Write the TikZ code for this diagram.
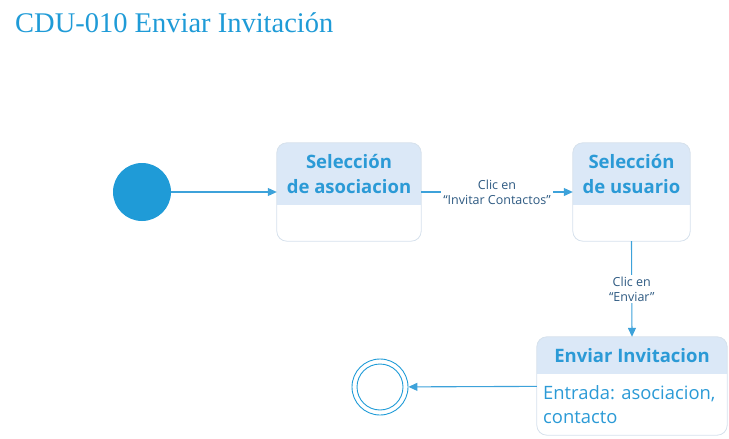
\documentclass[tikz,border=0pt]{standalone}
\usepackage{fontspec}
\setmainfont{Open Sans}
\newfontfamily\titlefont{Liberation Serif}
\usetikzlibrary{arrows.meta,positioning}
\definecolor{titleblue}{HTML}{1F9BD7}
\definecolor{lineblue}{HTML}{3DA2DA}
\definecolor{headblue}{HTML}{DBE8F7}
\definecolor{boxgray}{HTML}{D6E1EC}
\definecolor{textblue}{HTML}{2B9AD6}
\definecolor{lblblue}{HTML}{2E5A82}

\begin{document}
\begin{tikzpicture}[x=1pt,y=-1pt,>={Triangle[length=9pt,width=8pt]},
  statebox/.style={rectangle,inner sep=0pt},
  headfill/.style={fill=headblue},
  boxline/.style={draw=boxgray,line width=0.8pt,rounded corners=10pt},
  headtext/.style={align=center,text=textblue,font=\bfseries\fontsize{18.5}{25}\selectfont},
  flow/.style={->,draw=lineblue,line width=1.1pt},
  lbl/.style={align=center,fill=white,text=lblblue,inner sep=2pt,font=\fontsize{12.5}{15}\selectfont}]
\useasboundingbox (0,0) rectangle (729,439);
\node[anchor=base west,text=titleblue,inner sep=0pt,font=\titlefont\fontsize{28.5}{30}\selectfont] (title) at (15,32) {CDU-010 Enviar Invitación};

% start / end
\node[circle,fill=titleblue,minimum size=58pt,inner sep=0pt] (init) at (142,192) {};
\node[circle,draw=titleblue,line width=0.9pt,minimum size=56pt,inner sep=0pt] (fin) at (380,387) {};
\node[circle,draw=titleblue,line width=0.9pt,minimum size=46pt,inner sep=0pt] (fininner) at (fin) {};

% Seleccion de asociacion
\node[statebox,minimum width=144pt,minimum height=98pt] (asoc) at (349,192) {};
\fill[headfill] ([yshift=-62pt]asoc.north west) [rounded corners=10pt] -- (asoc.north west) -- (asoc.north east) [sharp corners] -- ([yshift=-62pt]asoc.north east) -- cycle;
\draw[boxline] (asoc.north west) rectangle (asoc.south east);
\node[headtext] (asoct) at ([yshift=-31pt]asoc.north) {Selección\\de asociacion};

% Seleccion de usuario
\node[statebox,minimum width=117pt,minimum height=98pt] (usr) at (631.5,192) {};
\fill[headfill] ([yshift=-62pt]usr.north west) [rounded corners=10pt] -- (usr.north west) -- (usr.north east) [sharp corners] -- ([yshift=-62pt]usr.north east) -- cycle;
\draw[boxline] (usr.north west) rectangle (usr.south east);
\node[headtext] (usrt) at ([yshift=-31pt]usr.north) {Selección\\de usuario};

% Enviar Invitacion
\node[statebox,minimum width=190pt,minimum height=98pt] (env) at (632,386) {};
\fill[headfill] ([yshift=-37pt]env.north west) [rounded corners=10pt] -- (env.north west) -- (env.north east) [sharp corners] -- ([yshift=-37pt]env.north east) -- cycle;
\draw[boxline] (env.north west) rectangle (env.south east);
\node[headtext] (envt) at ([yshift=-18.5pt]env.north) {Enviar Invitacion};
\node[anchor=north west,align=left,text=textblue,inner sep=0pt,font=\fontsize{18.4}{24}\selectfont] (envb) at (543,385) {Entrada: asociacion,\\contacto};

\draw[flow] (init) -- (asoc);
\draw[flow] (asoc) -- node[lbl] {Clic en\\“Invitar Contactos”} (usr);
\draw[flow] (usr.south) -- node[lbl] {Clic en\\“Enviar”} (env.north);
\draw[flow] (env) -- (fin);
\end{tikzpicture}
\end{document}
